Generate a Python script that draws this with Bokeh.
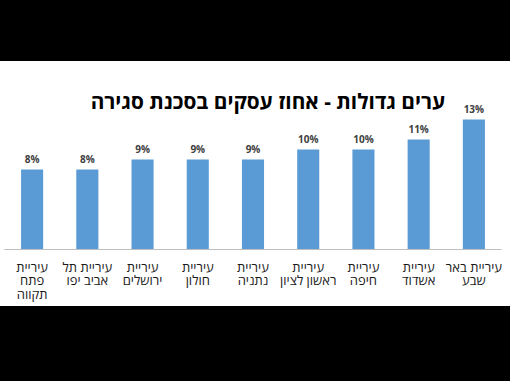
from bokeh.plotting import figure
from bokeh.models import ColumnDataSource, LabelSet, Label, Div
from bokeh.layouts import column
from bokeh.core.properties import value
from bokeh.embed import file_html
from bokeh.resources import INLINE

title_text = "ערים גדולות - אחוז עסקים בסכנת סגירה"
cities = [
    "עיריית\nפתח\nתקווה",
    "עיריית תל\nאביב יפו",
    "עיריית\nירושלים",
    "עיריית\nחולון",
    "עיריית\nנתניה",
    "עיריית\nראשון לציון",
    "עיריית\nחיפה",
    "עיריית\nאשדוד",
    "עיריית באר\nשבע",
]
values = [8, 8, 9, 9, 9, 10, 10, 11, 13]
value_labels = [f"{v}%" for v in values]

FONT = "Open Sans"

src = ColumnDataSource(dict(city=cities, val=values, lab=value_labels))

p = figure(x_range=cities, y_range=(0, 18.8), frame_width=497, frame_height=188,
           output_backend="svg", toolbar_location=None, margin=0,
           min_border_left=4, min_border_right=9, min_border_top=0, min_border_bottom=57)

p.vbar(x="city", top="val", width=0.4, source=src, color="#5b9bd5", line_color=None)

labels = LabelSet(x="city", y="val", text="lab", source=src, y_offset=11,
                  text_align="center", text_baseline="middle",
                  text_font=value(FONT), text_font_size=value("10px"), text_font_style="bold",
                  text_color="#404040")
p.add_layout(labels)

title = Label(x=4.77, y=14.9, text=title_text, text_align="center", text_baseline="middle",
              text_font=FONT, text_font_size="20.8px", text_font_style="bold",
              text_color="#000000")
p.add_layout(title)

p.yaxis.visible = False
p.xgrid.visible = False
p.ygrid.visible = False
p.outline_line_color = None
p.xaxis.axis_line_color = "#bfbfbf"
p.xaxis.major_tick_line_color = None
p.xaxis.minor_tick_line_color = None
p.xaxis.major_label_text_font = FONT
p.xaxis.major_label_text_font_size = "13px"
p.xaxis.major_label_text_color = "#1a1a1a"
p.xaxis.major_label_text_line_height = 0.77
p.xaxis.major_label_standoff = 2
p.x_range.range_padding = 0

top_band = Div(width=510, height=61, margin=0, styles={"background-color": "black"})
bottom_band = Div(width=510, height=75, margin=0, styles={"background-color": "black"})

layout = column(top_band, p, bottom_band, spacing=0, margin=0)

open("out.html", "w").write(file_html(layout, INLINE))
